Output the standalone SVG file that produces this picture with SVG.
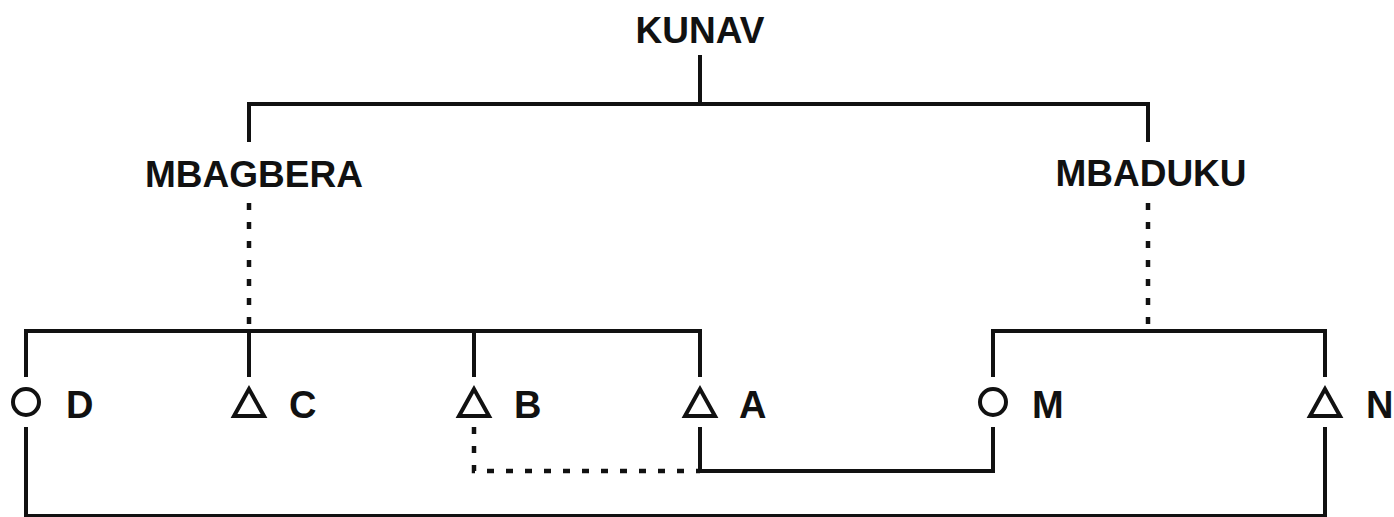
<svg xmlns="http://www.w3.org/2000/svg" width="1394" height="517" viewBox="0 0 1394 517">
<style>
  .bg { fill: #ffffff; }
  .lbl { font-family: "Liberation Sans", Arial, sans-serif; font-weight: bold; font-size: 37px; fill: #111; }
  .ltr { font-family: "Liberation Sans", Arial, sans-serif; font-weight: bold; font-size: 38px; fill: #111; }
  .solid { fill: none; stroke: #111; stroke-width: 4; stroke-linecap: butt; stroke-linejoin: miter; }
  .dotv { fill: none; stroke: #111; stroke-width: 4.5; stroke-dasharray: 7 12; }
  .doth { fill: none; stroke: #111; stroke-width: 4.5; stroke-dasharray: 7 12; }
  .sym { fill: none; stroke: #111; stroke-width: 4; stroke-linejoin: miter; }
</style>
<defs>
  <polygon id="tri" points="0,-14 -15,13 15,13"/>
  <circle id="circ" cx="0" cy="0" r="13"/>
</defs>
<rect class="bg" x="0" y="0" width="1394" height="517"/>

<g id="connectors">
  <!-- KUNAV descent -->
  <path class="solid" d="M700,55 V104"/>
  <path class="solid" d="M249,142 V104 H1148 V142"/>
  <!-- dotted descent lines -->
  <path class="dotv" d="M249,203 V331"/>
  <path class="dotv" d="M1148,203 V331"/>
  <!-- sibling bar left -->
  <path class="solid" d="M26,377 V331 H700 V377"/>
  <path class="solid" d="M249,331 V377"/>
  <path class="solid" d="M474,331 V377"/>
  <!-- sibling bar right -->
  <path class="solid" d="M993,377 V331 H1325 V377"/>
  <!-- B to A dotted -->
  <path class="doth" d="M474,427 V471 H700"/>
  <!-- A - M marriage -->
  <path class="solid" d="M700,427 V471 H993 V427"/>
  <!-- D - N marriage -->
  <path class="solid" d="M26,427 V516 H1325 V427"/>
</g>

<g id="node-kunav">
  <text class="lbl" x="700" y="43" text-anchor="middle">KUNAV</text>
</g>
<g id="node-mbagbera">
  <text class="lbl" x="254" y="187" text-anchor="middle">MBAGBERA</text>
</g>
<g id="node-mbaduku">
  <text class="lbl" x="1151" y="186" text-anchor="middle">MBADUKU</text>
</g>

<g id="node-d">
  <use href="#circ" class="sym" x="26" y="402"/>
  <text class="ltr" x="66" y="418">D</text>
</g>
<g id="node-c">
  <use href="#tri" class="sym" x="249" y="403"/>
  <text class="ltr" x="289" y="418">C</text>
</g>
<g id="node-b">
  <use href="#tri" class="sym" x="474" y="403"/>
  <text class="ltr" x="514" y="418">B</text>
</g>
<g id="node-a">
  <use href="#tri" class="sym" x="700" y="403"/>
  <text class="ltr" x="739" y="418">A</text>
</g>
<g id="node-m">
  <use href="#circ" class="sym" x="993" y="402"/>
  <text class="ltr" x="1032" y="418">M</text>
</g>
<g id="node-n">
  <use href="#tri" class="sym" x="1325" y="403"/>
  <text class="ltr" x="1366" y="418">N</text>
</g>
</svg>
